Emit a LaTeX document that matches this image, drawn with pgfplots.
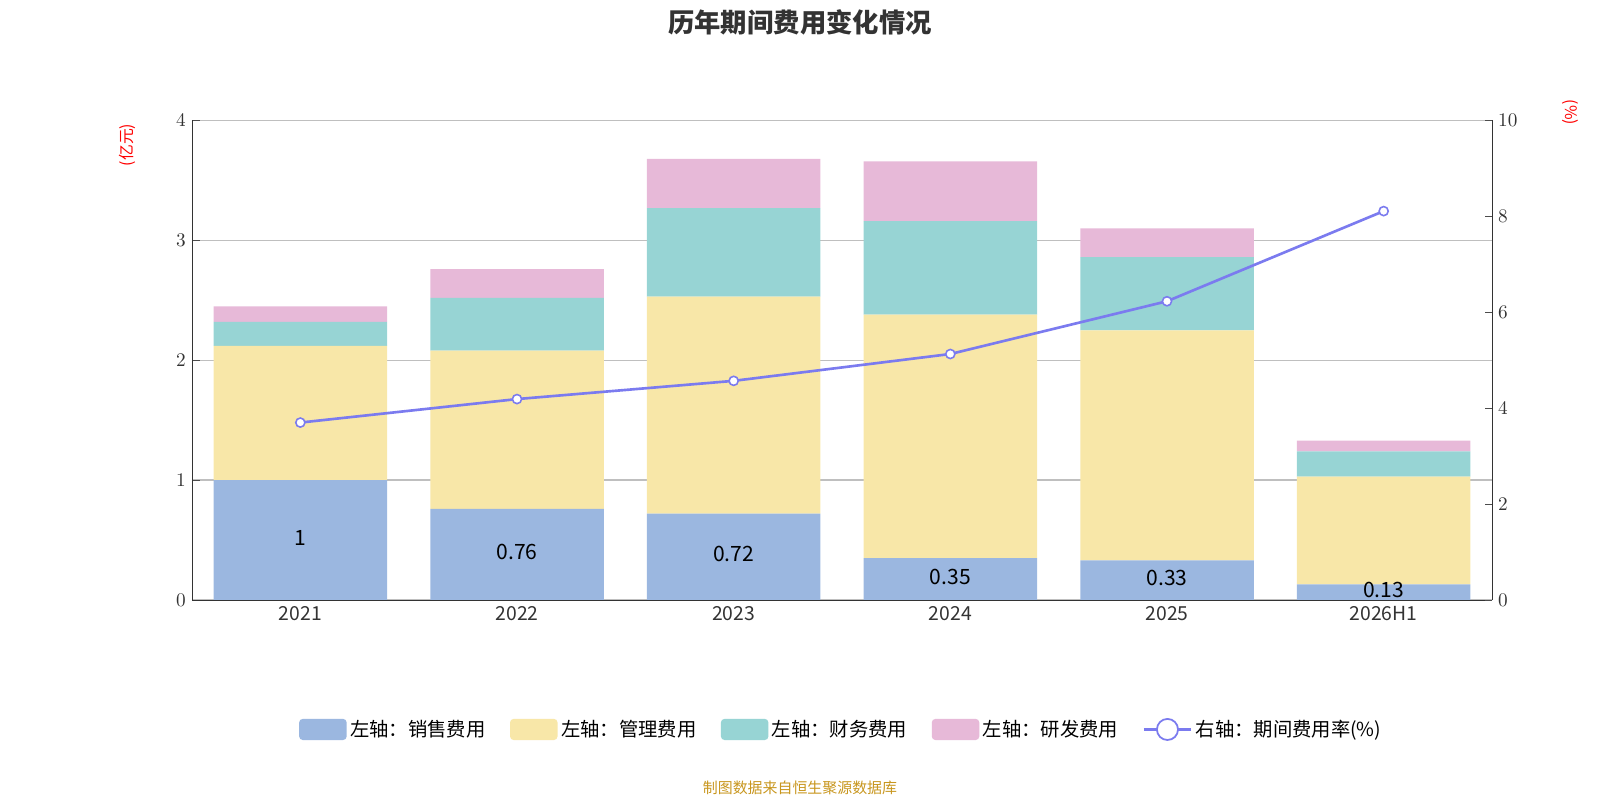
\documentclass[border=0pt]{standalone}
\usepackage{pgfplots}
\pgfplotsset{compat=1.18}
\usepackage{fontspec}
\setmainfont{Noto Sans CJK SC}
\definecolor{cs}{HTML}{9BB7E0}
\definecolor{cm}{HTML}{F8E7A8}
\definecolor{cf}{HTML}{97D4D4}
\definecolor{cr}{HTML}{E7B9D8}
\definecolor{cl}{HTML}{7B7BEF}
\definecolor{src}{HTML}{C8961E}
\begin{document}
\begin{tikzpicture}[x=1cm,y=1cm]
\path (0,0) rectangle (32,16);
\node[font=\bfseries\fontsize{15}{18}\selectfont,text=black!80] at (16,15.55) {历年期间费用变化情况};
\node[font=\fontsize{8.5}{10}\selectfont,text=src] at (16,0.25) {制图数据来自恒生聚源数据库};
\node[rotate=90,text=red,font=\fontsize{9}{10}\selectfont] at (2.55,13.1) {(亿元)};
\node[rotate=-90,text=red,font=\fontsize{9}{10}\selectfont] at (31.4,13.75) {(\%)};
\begin{axis}[at={(3.84cm,4.0cm)},anchor=south west,width=26cm,height=9.59cm,scale only axis,
 ybar stacked,bar width=3.47cm,xmin=-0.5,xmax=5.5,ymin=0,ymax=4,ytick={0,1,2,3,4},
 xtick={0,...,5},xticklabels={2021,2022,2023,2024,2025,2026H1},
 extra x ticks={-0.5,0.5,1.5,2.5,3.5,4.5,5.5},extra x tick labels={},
 extra x tick style={grid=none,major tick length=6pt,tick style={black!70}},
 major x tick style={draw=none},
 ymajorgrids,grid style={black!25,line width=0.8pt},
 axis x line*=bottom,axis y line*=left,axis line style={black!80},
 y tick style={black!70},
 tick label style={font=\fontsize{11}{13}\selectfont,text=black!80},
 legend style={at={(0.5,-0.27)},anchor=center,draw=none,legend columns=5,
   font=\fontsize{11}{13}\selectfont,/tikz/every even column/.append style={column sep=12pt}},
 legend image code/.code={\fill[#1,rounded corners=2pt] (0pt,-6pt) rectangle (27pt,6pt);},
 ]
\addplot[fill=cs,draw=none] coordinates {(0,1.00)(1,0.76)(2,0.72)(3,0.35)(4,0.33)(5,0.13)};
\addlegendentry{左轴：销售费用}
\addplot[fill=cm,draw=none] coordinates {(0,1.12)(1,1.32)(2,1.81)(3,2.03)(4,1.92)(5,0.90)};
\addlegendentry{左轴：管理费用}
\addplot[fill=cf,draw=none] coordinates {(0,0.20)(1,0.44)(2,0.74)(3,0.78)(4,0.61)(5,0.21)};
\addlegendentry{左轴：财务费用}
\addplot[fill=cr,draw=none] coordinates {(0,0.13)(1,0.24)(2,0.41)(3,0.50)(4,0.24)(5,0.09)};
\addlegendentry{左轴：研发费用}
\addlegendimage{legend image code/.code={\draw[cl,line width=1.2pt] (0pt,0pt)--(27pt,0pt);\draw[cl,fill=white,line width=1pt] (13.5pt,0pt) circle (6pt);}}
\addlegendentry{右轴：期间费用率(\%)}
\end{axis}
\begin{axis}[at={(3.84cm,4.0cm)},anchor=south west,width=26cm,height=9.59cm,scale only axis,
 xmin=-0.5,xmax=5.5,ymin=0,ymax=4,axis lines=none,
 nodes near coords,point meta=explicit symbolic,
 every node near coord/.style={anchor=center,font=\fontsize{12}{14}\selectfont,text=black}]
\addplot[only marks,draw=none,mark=none] coordinates {(0,0.52)[1](1,0.40)[0.76](2,0.38)[0.72](3,0.195)[0.35](4,0.185)[0.33](5,0.085)[0.13]};
\end{axis}
\begin{axis}[at={(3.84cm,4.0cm)},anchor=south west,width=26cm,height=9.59cm,scale only axis,
 xmin=-0.5,xmax=5.5,ymin=0,ymax=10,ytick={0,2,4,6,8,10},
 axis x line=none,axis y line*=right,axis line style={black!80},y tick style={black!70},
 tick label style={font=\fontsize{11}{13}\selectfont,text=black!80}]
\addplot[cl,line width=1.5pt,mark=*,mark size=2.6pt,mark options={fill=white,line width=0.9pt}]
 coordinates {(0,3.70)(1,4.19)(2,4.57)(3,5.13)(4,6.23)(5,8.11)};
\end{axis}
\end{tikzpicture}
\end{document}
